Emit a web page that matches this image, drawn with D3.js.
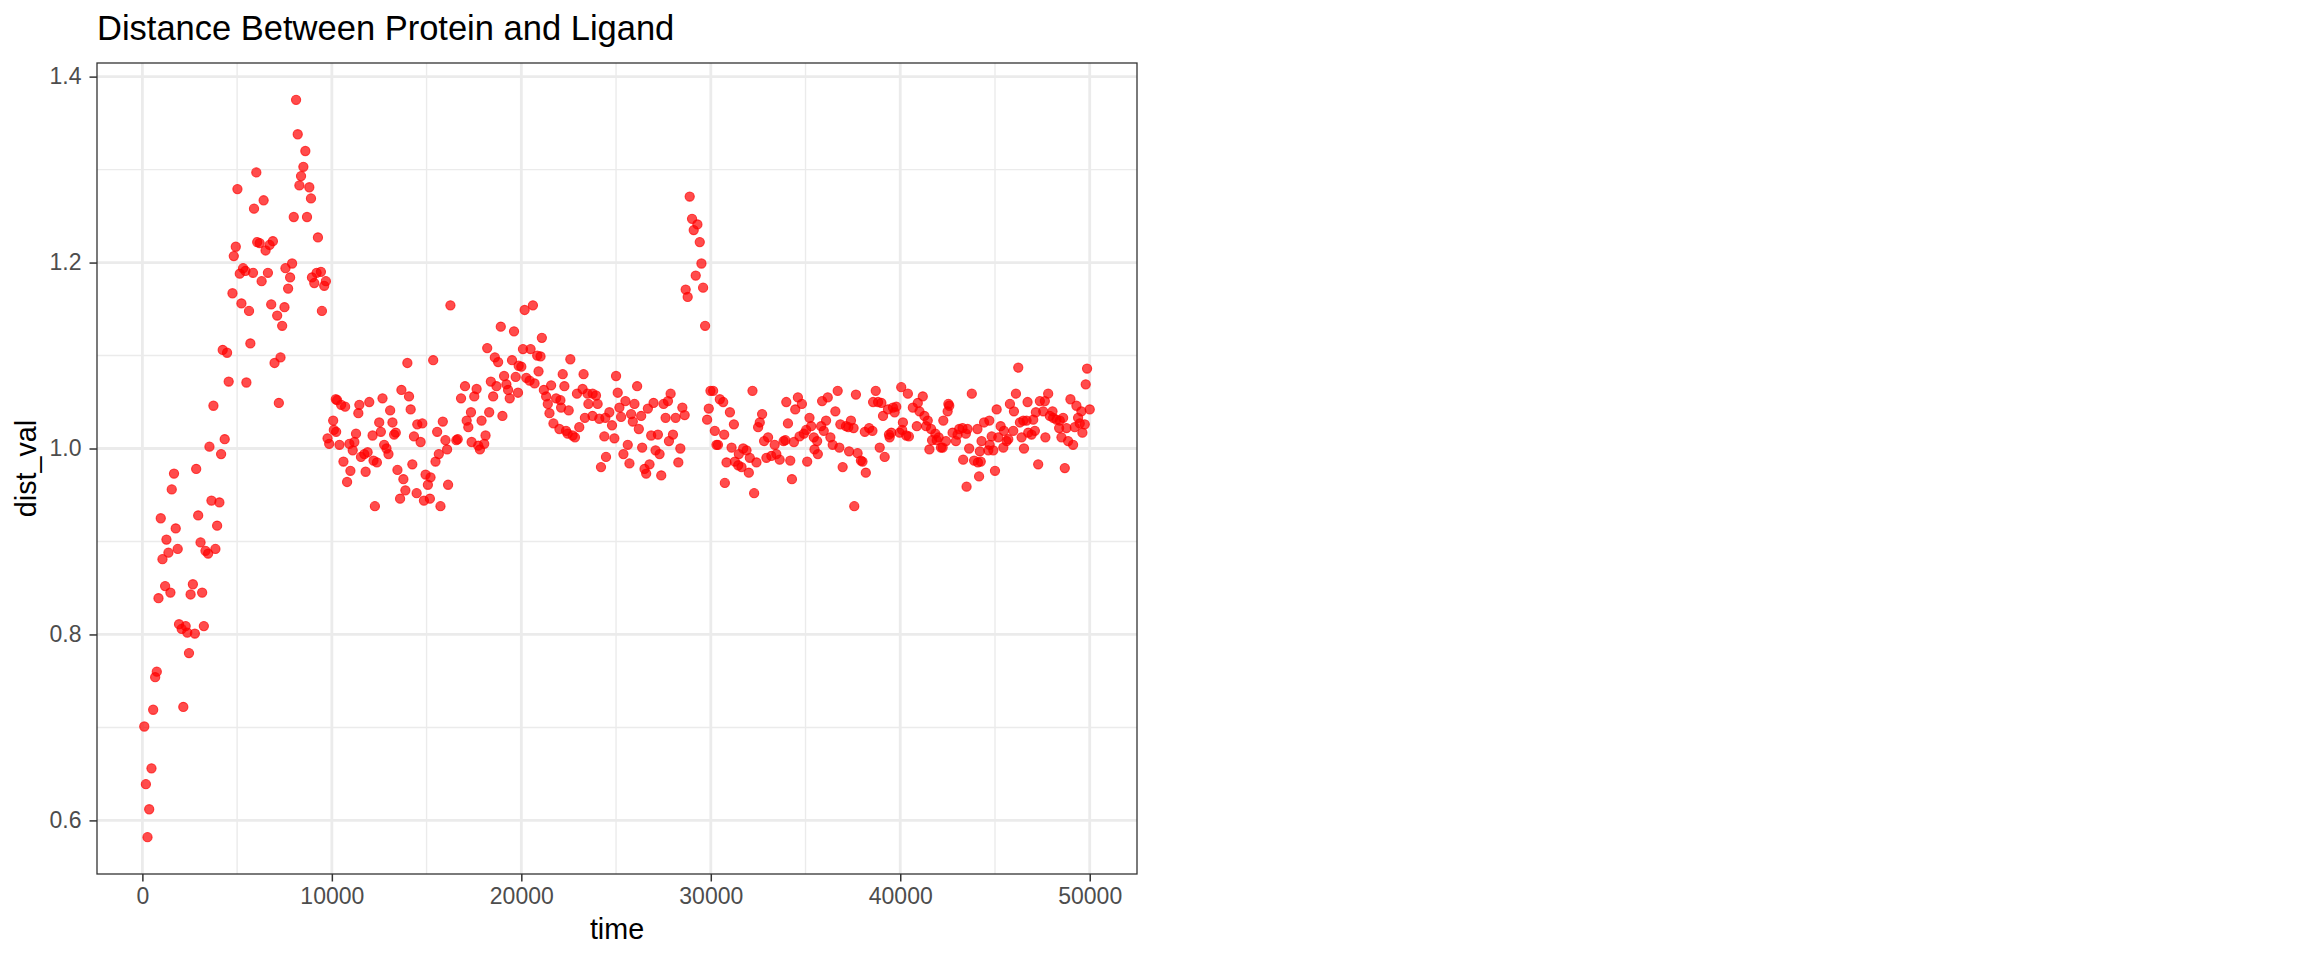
<!DOCTYPE html>
<html>
<head>
<meta charset="utf-8">
<script src="https://cdn.jsdelivr.net/npm/d3@7"></script>
<style>
  body { margin: 0; background: #fff; }
  text { font-family: "Liberation Sans", Arial, Helvetica, sans-serif; }
</style>
</head>
<body>
<script>
const chartTitle = "Distance Between Protein and Ligand";
const xLabel = "time";
const yLabel = "dist_val";
const xBreaks = [0, 10000, 20000, 30000, 40000, 50000];
const yBreaks = [0.6, 0.8, 1.0, 1.2, 1.4];

// [time, dist_val]
const distSamples = [
  [100,0.701],[185,0.639],[270,0.582],[360,0.612],[480,0.656],[570,0.719],[675,0.754],[760,0.760],[850,0.839],[970,0.925],
  [1060,0.881],[1200,0.852],[1270,0.902],[1375,0.888],[1480,0.845],[1550,0.956],[1670,0.973],[1760,0.914],[1865,0.892],[1935,0.811],
  [2075,0.806],[2160,0.722],[2285,0.809],[2370,0.802],[2460,0.780],[2545,0.843],[2665,0.854],[2770,0.801],[2840,0.978],[2945,0.928],
  [3070,0.899],[3155,0.845],[3245,0.809],[3330,0.890],[3470,0.887],[3540,1.002],[3645,0.944],[3750,1.046],[3855,0.892],[3945,0.917],
  [4065,0.942],[4155,0.994],[4240,1.106],[4345,1.010],[4470,1.103],[4555,1.072],
  [4755,1.167],[4825,1.207],[4930,1.217],[5017,1.279],[5140,1.188],[5227,1.156],[5315,1.194],[5437,1.191],[5490,1.071],[5629,1.148],
  [5699,1.113],[5839,1.189],[5892,1.258],[6014,1.297],[6060,1.222],[6189,1.221],[6294,1.180],[6399,1.267],[6503,1.213],[6626,1.189],
  [6713,1.219],[6800,1.155],[6888,1.223],[6976,1.092],[7115,1.143],[7203,1.049],[7290,1.098],[7378,1.132],[7500,1.152],[7552,1.194],
  [7692,1.172],[7797,1.184],[7902,1.199],[7990,1.249],[8112,1.375],[8199,1.338],[8287,1.283],[8374,1.293],[8497,1.303],[8601,1.320],
  [8689,1.249],[8811,1.281],[8899,1.269],[8951,1.184],[9073,1.178],[9196,1.189],[9266,1.227],[9423,1.190],[9476,1.148],[9598,1.175],
  [9685,1.180],[9773,1.011],[9860,1.005],[10070,1.030],[10210,1.053],
  [10105,1.020],[10227,1.018],[10280,1.052],[10402,1.004],[10490,1.047],[10612,0.986],[10700,1.045],[10804,0.964],[10926,1.005],[10979,0.976],
  [11101,0.998],[11188,1.007],[11276,1.016],[11398,1.038],[11451,1.047],[11538,0.991],[11713,0.994],[11783,0.975],[11888,0.996],[11975,1.050],
  [12150,1.014],[12200,0.987],[12272,0.938],[12377,0.985],[12500,1.028],[12587,1.018],[12674,1.054],[12762,1.004],[12884,1.000],[12989,0.994],
  [13077,1.041],[13199,1.028],[13287,1.015],[13374,1.017],[13462,0.977],[13601,0.946],[13671,1.063],[13776,0.967],[13881,0.955],[13986,1.092],
  [14073,1.056],[14160,1.042],[14248,0.983],[14335,1.013],[14475,0.952],[14510,1.026],[14685,1.007],[14772,1.027],[14860,0.944],[14947,0.972],
  [15069,0.961],[15174,0.946],[15209,0.969],[15349,1.095],[15471,0.986],[15558,1.018],[15646,0.994],[15733,0.938],[15856,1.029],[15996,1.009],
  [16083,0.999],[16135,0.961],[16258,1.154],[16572,1.009],
  [16643,1.010],[16819,1.054],[17028,1.067],[17116,1.030],[17203,1.023],[17343,1.039],[17377,1.007],[17517,1.056],[17640,1.064],[17727,1.003],
  [17815,0.999],[17902,1.030],[18042,1.005],[18112,1.014],[18200,1.108],[18305,1.039],[18392,1.072],[18514,1.056],[18602,1.098],[18689,1.067],
  [18776,1.093],[18916,1.131],[19003,1.035],[19091,1.078],[19213,1.069],[19301,1.063],[19388,1.054],[19510,1.095],[19615,1.126],[19703,1.077],
  [19825,1.060],[19860,1.089],[20000,1.088],[20087,1.107],[20175,1.149],[20262,1.076],[20437,1.073],[20489,1.107],[20612,1.154],[20699,1.070],
  [20839,1.100],[20909,1.083],[21014,1.099],[21084,1.119],[21189,1.063],[21311,1.056],[21398,1.048],[21486,1.038],[21573,1.068],[21696,1.027],
  [21836,1.054],[22010,1.021],[22063,1.052],[22100,1.044],[22185,1.080],[22273,1.067],[22360,1.019],[22447,1.016],[22500,1.041],[22587,1.096],
  [22709,1.014],[22832,1.012],[22937,1.059],[23059,1.023],[23234,1.064],[23286,1.080],[23356,1.033],[23496,1.059],[23540,1.048],[23758,1.035],
  [23763,1.059],[23940,1.057],[24028,1.048],[24116,1.032],[24205,0.980],[24382,1.013],[24435,1.033],[24470,0.991],[24647,1.039],[24788,1.025],
  [24912,1.011],[25000,1.078],[25088,1.060],[25177,1.044],[25265,1.034],[25389,0.994],[25495,1.051],[25618,1.004],[25707,0.984],[25795,1.037],
  [25884,1.029],[25972,1.048],[26113,1.067],[26202,1.021],[26325,1.035],[26378,1.001],[26502,0.978],[26590,0.973],[26679,1.043],[26767,0.983],
  [26855,1.014],[26979,1.049],[27085,0.998],[27209,1.015],[27297,0.994],[27385,0.971],[27509,1.048],[27615,1.033],[27739,1.051],[27792,1.008],
  [27880,1.059],[28004,1.015],[28145,1.033],[28287,0.985],[28393,1.000],[28499,1.044],[28622,1.036],[28675,1.171],[28781,1.163],[28887,1.271],
  [29011,1.247],[29099,1.235],[29205,1.186],[29294,1.241],[29418,1.222],[29506,1.199],[29594,1.173],[29700,1.132],[29806,1.031],[29894,1.043],
  [29983,1.062],[30124,1.062],[30212,1.019],[30301,1.004],[30380,1.004],[30477,1.053],[30654,1.050],[30707,1.015],[30742,0.963],[30830,0.985],
  [31010,1.039],[31097,1.001],[31220,1.026],[31272,0.986],[31447,0.982],[31482,0.994],[31622,0.980],[31710,1.000],[31885,0.998],[32008,0.974],
  [32060,0.990],[32200,1.062],[32288,0.952],[32410,0.985],[32498,1.023],[32585,1.028],[32708,1.037],[32813,1.008],[32935,0.990],[33023,1.012],
  [33197,0.992],[33372,1.004],[33460,0.994],[33635,0.988],[33845,1.008],[33933,1.009],[33985,1.050],[34073,1.027],[34195,0.987],[34283,0.967],
  [34388,1.007],[34458,1.042],[34598,1.055],[34685,1.013],[34808,1.048],[34913,1.016],[35035,1.020],[35088,0.986],[35210,1.033],[35298,1.024],
  [35438,1.012],[35473,0.999],[35613,1.008],[35650,0.994],[35823,1.024],[35875,1.051],[35963,1.019],[36085,1.030],[36173,1.055],[36313,1.012],
  [36435,1.004],[36575,1.040],[36698,1.062],[36785,1.001],[36838,1.026],[36960,0.980],[37135,1.024],[37258,1.023],[37300,0.997],[37398,1.030],
  [37538,1.022],[37573,0.938],[37660,1.058],[37748,0.995],[37923,0.987],
  [38007,0.986],[38130,1.018],[38182,0.974],[38357,1.022],[38532,1.019],[38567,1.050],[38706,1.062],[38829,1.050],[38916,1.001],[39004,1.049],
  [39091,1.035],[39178,0.991],[39353,1.042],[39405,1.015],[39440,1.012],[39528,1.017],[39615,1.044],[39703,1.039],[39790,1.045],[39965,1.017],
  [40052,1.066],[40100,1.020],[40140,1.028],[40315,1.014],[40402,1.059],[40454,1.013],[40664,1.044],[40874,1.024],[40926,1.049],[41014,1.040],
  [41188,1.056],[41276,1.035],[41363,1.024],[41451,1.030],[41538,0.999],[41626,1.021],[41680,1.009],[41853,1.016],[41923,1.009],[42028,1.012],
  [42150,1.001],[42237,1.001],[42272,1.030],[42412,1.008],[42500,1.040],[42540,1.048],[42587,1.046],[42762,1.017],[42937,1.008],[43024,1.015],
  [43112,1.021],[43286,1.022],[43321,0.988],[43461,1.016],[43500,0.959],[43549,1.021],[43636,1.000],[43776,1.059],[43898,0.987],[44073,1.021],
  [44100,0.985],[44160,0.970],[44200,0.997],[44248,0.986],[44290,1.008],[44423,1.028],
  [44702,1.030],[44720,1.004],[44649,0.998],[44912,0.998],[45000,0.976],[45088,1.042],[44825,1.013],[45175,1.012],[45298,1.024],[45474,1.019],
  [45614,1.008],[45439,1.001],[45702,1.010],[45965,1.019],[45789,1.048],[46000,1.040],[46105,1.059],[46228,1.087],[46316,1.028],[46404,1.012],
  [46491,1.030],[46530,1.000],[46667,1.030],[46719,1.050],[46754,1.017],[46930,1.015],[47018,1.031],[47158,1.039],[47105,1.019],[47280,0.983],
  [47368,1.051],[47544,1.040],[47631,1.051],[47660,1.012],[47807,1.059],[47895,1.035],[48035,1.040],[48070,1.033],[48245,1.031],[48386,1.022],
  [48421,1.030],[48508,1.012],[48596,1.033],[48684,0.979],[48771,1.022],[48859,1.008],[48982,1.053],[49122,1.004],[49210,1.023],[49298,1.046],
  [49385,1.033],[49473,1.027],[49561,1.040],[49614,1.017],[49737,1.026],[49789,1.069],[49860,1.086],[50000,1.042]
];

const width = 2304;
const height = 960;
const panel = { left: 97, top: 63, right: 1137, bottom: 874 };

const svg = d3.select("body").append("svg")
    .attr("width", width)
    .attr("height", height);

// ggplot style 5% padding around the data range
function expand([lo, hi]) {
  const pad = (hi - lo) * 0.05;
  return [lo - pad, hi + pad];
}

const x = d3.scaleLinear()
    .domain(expand(d3.extent(distSamples, d => d[0])))
    .range([panel.left, panel.right]);

const y = d3.scaleLinear()
    .domain(expand(d3.extent(distSamples, d => d[1])))
    .range([panel.bottom, panel.top]);

const inside = (s, v) => v >= s.domain()[0] && v <= s.domain()[1];
const xMinor = d3.pairs(xBreaks).map(([a, b]) => (a + b) / 2).filter(v => inside(x, v));
const yMinor = d3.pairs(yBreaks).map(([a, b]) => (a + b) / 2).filter(v => inside(y, v));

const grid = svg.append("g").attr("stroke", "#ebebeb");

grid.selectAll(".xmin").data(xMinor).join("line")
    .attr("x1", d => x(d)).attr("x2", d => x(d))
    .attr("y1", panel.top).attr("y2", panel.bottom)
    .attr("stroke-width", 1.4);
grid.selectAll(".ymin").data(yMinor).join("line")
    .attr("y1", d => y(d)).attr("y2", d => y(d))
    .attr("x1", panel.left).attr("x2", panel.right)
    .attr("stroke-width", 1.4);
grid.selectAll(".xmaj").data(xBreaks).join("line")
    .attr("x1", d => x(d)).attr("x2", d => x(d))
    .attr("y1", panel.top).attr("y2", panel.bottom)
    .attr("stroke-width", 2.8);
grid.selectAll(".ymaj").data(yBreaks).join("line")
    .attr("y1", d => y(d)).attr("y2", d => y(d))
    .attr("x1", panel.left).attr("x2", panel.right)
    .attr("stroke-width", 2.8);

svg.append("g")
  .selectAll("circle")
  .data(distSamples)
  .join("circle")
    .attr("cx", d => x(d[0]))
    .attr("cy", d => y(d[1]))
    .attr("r", 4.6)
    .attr("fill", "red")
    .attr("fill-opacity", 0.7)
    .attr("stroke", "red")
    .attr("stroke-opacity", 0.7)
    .attr("stroke-width", 1.1);

svg.append("rect")
    .attr("x", panel.left).attr("y", panel.top)
    .attr("width", panel.right - panel.left)
    .attr("height", panel.bottom - panel.top)
    .attr("fill", "none")
    .attr("stroke", "#333333")
    .attr("stroke-width", 1.3);

const xAxis = svg.append("g")
    .attr("transform", `translate(0,${panel.bottom})`)
    .call(d3.axisBottom(x).tickValues(xBreaks).tickFormat(d3.format("d")).tickSize(7.5).tickPadding(6.5));

const yAxis = svg.append("g")
    .attr("transform", `translate(${panel.left},0)`)
    .call(d3.axisLeft(y).tickValues(yBreaks).tickFormat(d3.format(".1f")).tickSize(7.5).tickPadding(8));

[xAxis, yAxis].forEach(a => {
  a.select(".domain").remove();
  a.selectAll(".tick line").attr("stroke", "#333333").attr("stroke-width", 1.5);
  a.selectAll(".tick text")
      .attr("fill", "#4d4d4d")
      .style("font-size", "23px")
      .style("font-family", "'Liberation Sans', Arial, sans-serif");
});

svg.append("text")
    .attr("x", panel.left)
    .attr("y", 39.5)
    .style("font-size", "34.5px")
    .attr("fill", "#000")
    .text(chartTitle);

svg.append("text")
    .attr("x", (panel.left + panel.right) / 2)
    .attr("y", 939)
    .attr("text-anchor", "middle")
    .style("font-size", "28.7px")
    .attr("fill", "#000")
    .text(xLabel);

svg.append("text")
    .attr("transform", `translate(36,${(panel.top + panel.bottom) / 2}) rotate(-90)`)
    .attr("text-anchor", "middle")
    .style("font-size", "28.7px")
    .attr("fill", "#000")
    .text(yLabel);
</script>
</body>
</html>
